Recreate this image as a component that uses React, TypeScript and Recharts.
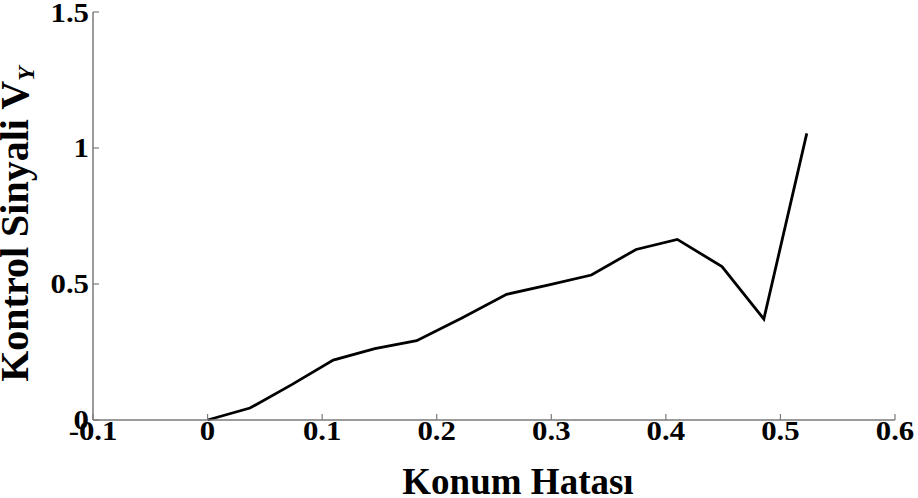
import React from "react";
import { LineChart, Line, XAxis, YAxis, Label } from "recharts";

const konumHatasi = [0, 0.037, 0.0735, 0.1097, 0.146, 0.1825, 0.222, 0.261, 0.298, 0.335, 0.374, 0.41, 0.449, 0.4855, 0.523];
const kontrolSinyali = [0, 0.044, 0.13, 0.22, 0.262, 0.2915, 0.375, 0.462, 0.497, 0.533, 0.627, 0.664, 0.564, 0.371, 1.054];

const xTicks = [-0.1, 0, 0.1, 0.2, 0.3, 0.4, 0.5, 0.6];
const xTickLabels = ["-0.1", "0", "0.1", "0.2", "0.3", "0.4", "0.5", "0.6"];
const yTicks = [0, 0.5, 1, 1.5];
const yTickLabels = ["0", "0.5", "1", "1.5"];

const xLabelText = "Konum Hatası";
const yLabelText = "Kontrol Sinyali V";
const yLabelSub = "Y";

const data = konumHatasi.map((x, i) => ({ x, y: kontrolSinyali[i] }));

const FONT = "'Liberation Serif', 'Times New Roman', serif";
const AXIS = "#7a7a7a";
const SX = 1.1;

const XTick = (props: any) => {
  const { x, y, payload } = props;
  const i = xTicks.indexOf(payload.value);
  return (
    <text
      x={x}
      y={y + 24}
      textAnchor="middle"
      transform={`translate(${x},0) scale(${SX},1) translate(${-x},0)`}
      fontFamily={FONT}
      fontWeight="bold"
      fontSize={28}
      fill="#000"
    >
      {i >= 0 ? xTickLabels[i] : String(payload.value)}
    </text>
  );
};

const YTick = (props: any) => {
  const { y, payload } = props;
  const i = yTicks.indexOf(payload.value);
  return (
    <text
      x={89}
      y={y + 9.5}
      textAnchor="end"
      transform={`translate(89,0) scale(${SX},1) translate(-89,0)`}
      fontFamily={FONT}
      fontWeight="bold"
      fontSize={28}
      fill="#000"
    >
      {i >= 0 ? yTickLabels[i] : String(payload.value)}
    </text>
  );
};

const XLabel = () => (
  <text x={518} y={494} textAnchor="middle" fontFamily={FONT} fontWeight="bold" fontSize={37} fill="#000">
    {xLabelText}
  </text>
);

const YLabel = () => (
  <text
    x={28}
    y={224}
    textAnchor="middle"
    transform="rotate(-90, 28, 224)"
    fontFamily={FONT}
    fontWeight="bold"
    fontSize={40}
    fill="#000"
  >
    {yLabelText}
    <tspan fontSize={24} fontStyle="italic" dy={6}>{yLabelSub}</tspan>
  </text>
);

export default function App() {
  return (
    <div style={{ position: "absolute", left: 0, top: 0, width: 918, height: 498, background: "#fff" }}>
      <LineChart width={918} height={498} data={data} margin={{ top: 12, right: 23, left: 0, bottom: 0 }}>
        <XAxis
          dataKey="x"
          type="number"
          domain={[-0.1, 0.6]}
          ticks={xTicks}
          height={78}
          stroke={AXIS}
          strokeWidth={1.5}
          tickSize={-6}
          tickLine={{ stroke: AXIS, strokeWidth: 1.2 }}
          tick={<XTick />}
          interval={0}
        >
          <Label content={<XLabel />} />
        </XAxis>
        <XAxis
          xAxisId="top"
          orientation="top"
          type="number"
          domain={[-0.1, 0.6]}
          ticks={xTicks}
          height={0}
          stroke={AXIS}
          strokeWidth={1.5}
          tickSize={-6}
          tickLine={{ stroke: AXIS, strokeWidth: 1.2 }}
          tickFormatter={() => ""}
          interval={0}
        />
        <YAxis
          type="number"
          domain={[0, 1.5]}
          ticks={yTicks}
          width={93}
          stroke={AXIS}
          strokeWidth={1.5}
          tickSize={-6}
          tickLine={{ stroke: AXIS, strokeWidth: 1.2 }}
          tick={<YTick />}
          interval={0}
        >
          <Label content={<YLabel />} />
        </YAxis>
        <YAxis
          yAxisId="right"
          orientation="right"
          type="number"
          domain={[0, 1.5]}
          ticks={yTicks}
          width={0}
          stroke={AXIS}
          strokeWidth={1.5}
          tickSize={-6}
          tickLine={{ stroke: AXIS, strokeWidth: 1.2 }}
          tickFormatter={() => ""}
          interval={0}
        />
        <Line
          type="linear"
          dataKey="y"
          stroke="#000"
          strokeWidth={2.8}
          dot={false}
          isAnimationActive={false}
        />
      </LineChart>
    </div>
  );
}
